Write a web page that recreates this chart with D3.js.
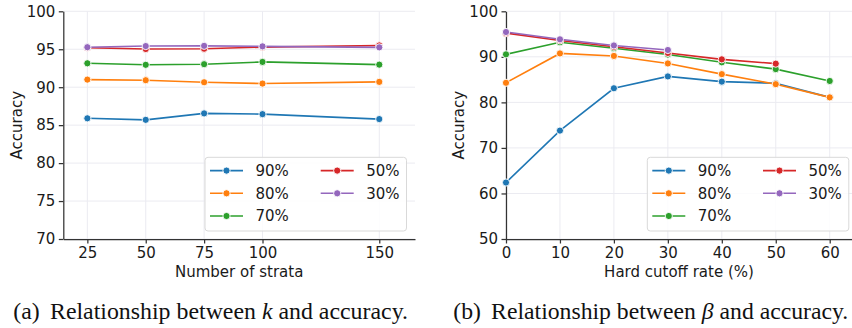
<!DOCTYPE html>
<html><head><meta charset="utf-8">
<script src="https://cdn.jsdelivr.net/npm/d3@7"></script>
<style>body{margin:0;background:#fff}svg{display:block}</style>
</head><body>
<svg id="c" width="852" height="328"></svg>
<script>
const seriesNames = ["90%", "80%", "70%", "50%", "30%"];
const colors = ["#1f77b4", "#ff7f0e", "#2ca02c", "#d62728", "#9467bd"];

const strataX = [25, 50, 75, 100, 150];
const strata90 = [85.9, 85.7, 86.55, 86.45, 85.8];
const strata80 = [91.0, 90.92, 90.65, 90.48, 90.7];
const strata70 = [93.15, 92.95, 93.03, 93.33, 92.97];
const strata50 = [95.2, 95.03, 95.07, 95.28, 95.5];
const strata30 = [95.27, 95.42, 95.45, 95.38, 95.25];
const strataTicks = [25, 50, 75, 100, 150];
const accTicksA = [70, 75, 80, 85, 90, 95, 100];

const cutX = [0, 10, 20, 30, 40, 50, 60];
const cut90 = [62.4, 73.8, 83.1, 85.7, 84.55, 84.2, 81.1];
const cut80 = [84.3, 90.75, 90.2, 88.55, 86.2, 84.0, 81.1];
const cut70 = [90.55, 93.2, 91.9, 90.5, 88.8, 87.3, 84.7];
const cut50 = [95.2, 93.6, 92.2, 90.85, 89.45, 88.5];
const cut30 = [95.45, 93.85, 92.5, 91.5];
const cutTicks = [0, 10, 20, 30, 40, 50, 60];
const accTicksB = [50, 60, 70, 80, 90, 100];

const svg = d3.select("#c");
const FONT = "'DejaVu Sans', sans-serif";

function panel(cfg) {
  const g = svg.append("g");
  const x = d3.scaleLinear().domain(cfg.xDomain).range([cfg.left, cfg.right]);
  const y = d3.scaleLinear().domain(cfg.yDomain).range([cfg.bottom, cfg.top]);
  g.append("g").selectAll("line").data(cfg.yTicks).join("line")
    .attr("x1", cfg.left).attr("x2", cfg.right)
    .attr("y1", d => y(d)).attr("y2", d => y(d))
    .attr("stroke", "#ebebf1").attr("stroke-width", 1);
  g.append("g").selectAll("line").data(cfg.xTicks).join("line")
    .attr("x1", d => x(d)).attr("x2", d => x(d))
    .attr("y1", cfg.top).attr("y2", cfg.bottom)
    .attr("stroke", "#ebebf1").attr("stroke-width", 1);
  const xa = g.append("g").attr("transform", `translate(0,${cfg.bottom})`)
    .call(d3.axisBottom(x).tickValues(cfg.xTicks).tickSize(4.5).tickPadding(3.5).tickSizeOuter(0));
  const ya = g.append("g").attr("transform", `translate(${cfg.left},0)`)
    .call(d3.axisLeft(y).tickValues(cfg.yTicks).tickSize(4.5).tickPadding(3.5).tickSizeOuter(0));
  [xa, ya].forEach(a => {
    a.select(".domain").attr("stroke", "#333").attr("stroke-width", 1.25);
    a.selectAll(".tick line").attr("stroke", "#333").attr("stroke-width", 1.25);
    a.selectAll("text").attr("font-family", FONT).attr("font-size", 15).attr("fill", "#1a1a1a");
  });
  g.append("text").attr("x", (cfg.left + cfg.right) / 2).attr("y", 277)
    .attr("text-anchor", "middle").attr("font-family", FONT).attr("font-size", 15)
    .attr("fill", "#1a1a1a").text(cfg.xLabel);
  g.append("text").attr("transform", `translate(${cfg.yLabelX},${(cfg.top + cfg.bottom) / 2}) rotate(-90)`)
    .attr("text-anchor", "middle").attr("font-family", FONT).attr("font-size", 15)
    .attr("fill", "#1a1a1a").text("Accuracy");
  const line = d3.line().x(d => x(d[0])).y(d => y(d[1]));
  cfg.series.forEach((vals, i) => {
    const pts = vals.map((v, j) => [cfg.xs[j], v]);
    g.append("path").datum(pts).attr("d", line).attr("fill", "none")
      .attr("stroke", colors[i]).attr("stroke-width", 1.6);
    g.append("g").selectAll("circle").data(pts).join("circle")
      .attr("cx", d => x(d[0])).attr("cy", d => y(d[1])).attr("r", 3.6)
      .attr("fill", colors[i]).attr("stroke", "#fff").attr("stroke-width", 0.9);
  });
  const lg = g.append("g").attr("transform", `translate(${cfg.legX},157.3)`);
  lg.append("rect").attr("x", 0).attr("y", 0).attr("width", 201.5).attr("height", 73.7)
    .attr("rx", 3).attr("fill", "#fff").attr("fill-opacity", 0.85)
    .attr("stroke", "#d9d9d9").attr("stroke-width", 1);
  seriesNames.forEach((n, i) => {
    const col = i < 3 ? 0 : 1, row = i < 3 ? i : i - 3;
    const ox = col === 0 ? 5 : 115.7, oy = 13.3 + row * 22.7;
    lg.append("line").attr("x1", ox).attr("x2", ox + 33).attr("y1", oy).attr("y2", oy)
      .attr("stroke", colors[i]).attr("stroke-width", 1.6);
    lg.append("circle").attr("cx", ox + 16.5).attr("cy", oy).attr("r", 3.6)
      .attr("fill", colors[i]).attr("stroke", "#fff").attr("stroke-width", 0.9);
    lg.append("text").attr("x", ox + 45.5).attr("y", oy + 5.5)
      .attr("font-family", FONT).attr("font-size", 15).attr("fill", "#1a1a1a").text(n);
  });
}

panel({
  left: 63.3, right: 415, top: 11.3, bottom: 239,
  xDomain: [14.7, 165.3], yDomain: [70, 100],
  xTicks: strataTicks, yTicks: accTicksA, xs: strataX,
  series: [strata90, strata80, strata70, strata50, strata30],
  xLabel: "Number of strata", yLabelX: 21.5, legX: 205
});
panel({
  left: 506, right: 852, top: 11.3, bottom: 239,
  xDomain: [0, 64.13], yDomain: [50, 100],
  xTicks: cutTicks, yTicks: accTicksB, xs: cutX,
  series: [cut90, cut80, cut70, cut50, cut30],
  xLabel: "Hard cutoff rate (%)", yLabelX: 463.5, legX: 647.3
});

const SERIF = "'Liberation Serif', 'DejaVu Serif', serif";
function caption(x0, w, lab, sym) {
  const t = svg.append("text").attr("x", x0).attr("y", 319.3)
    .attr("font-family", SERIF).attr("font-size", 22.5).attr("fill", "#111")
    .attr("textLength", w).attr("lengthAdjust", "spacingAndGlyphs");
  t.append("tspan").text(lab);
  t.append("tspan").attr("dx", 4).text(" Relationship between ");
  t.append("tspan").attr("font-style", "italic").text(sym);
  t.append("tspan").text(" and accuracy.");
}
caption(13.3, 394.7, "(a)", "k");
caption(453.3, 395, "(b)", "β");
</script>
</body></html>
